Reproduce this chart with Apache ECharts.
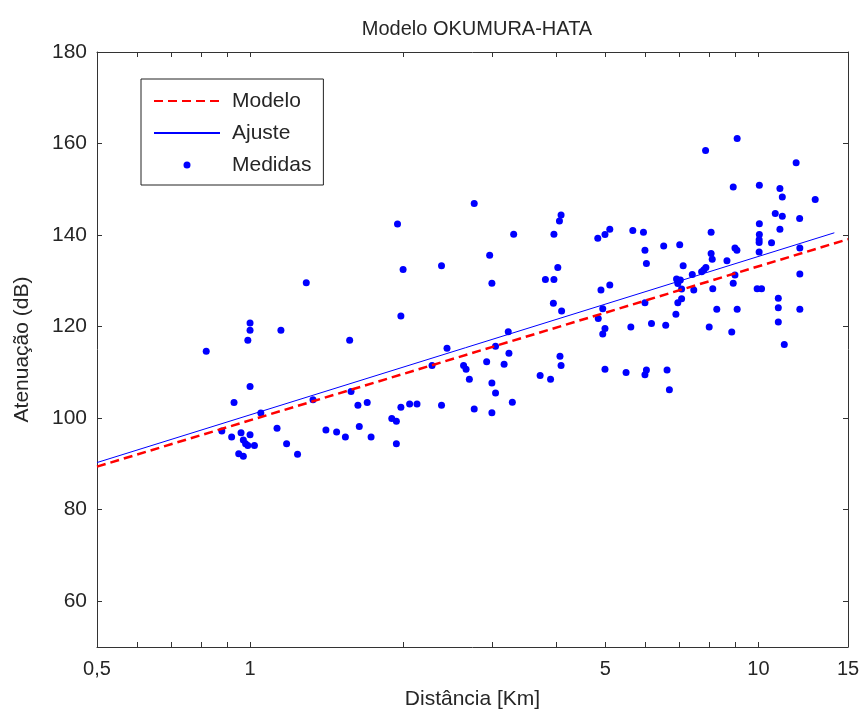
<!DOCTYPE html>
<html>
<head>
<meta charset="utf-8">
<script src="https://cdn.jsdelivr.net/npm/echarts@6/dist/echarts.min.js"></script>
<style>
  html, body { margin: 0; padding: 0; background: #fff; }
  #chart { width: 866px; height: 715px; }
</style>
</head>
<body>
<div id="chart"></div>
<script>
// medidas (distancia em km, atenuacao em dB)
var distKm = [0.82,1.00,1.00,0.99,1.15,1.57,1.00,0.93,1.58,1.63,1.70,1.98,1.33,1.05,0.88,0.92,0.96,1.00,0.97,0.98,
  0.99,1.02,0.95,0.97,1.13,1.18,1.24,1.41,1.48,1.54,1.64,1.73,1.90,1.94,1.94,1.98,1.95,2.00,1.29,2.76,
  3.30,3.96,4.09,4.06,4.83,4.99,5.10,2.38,2.96,2.99,4.03,3.81,3.96,4.90,5.10,9.08,7.87,11.86,8.92,10.04,
  11.02,11.14,12.93,10.79,11.14,12.05,10.04,11.02,5.66,5.94,8.07,10.04,10.03,10.03,10.61,6.51,7.00,5.98,8.99,9.07,
  10.03,12.06,8.07,8.11,8.67,6.02,7.11,7.88,7.81,7.73,7.41,12.06,8.99,6.90,7.02,6.94,8.92,7.06,7.46,8.13,
  9.94,10.14,10.94,7.06,3.95,4.10,4.94,4.84,4.99,4.94,4.99,3.22,2.44,3.04,3.23,2.28,2.63,2.66,2.70,2.92,
  3.16,4.07,4.09,3.72,3.90,2.99,3.04,2.06,2.13,2.38,2.76,2.99,3.28,5.98,6.94,6.88,5.61,6.16,6.57,8.00,
  8.28,9.08,8.86,10.94,12.06,10.94,11.24,5.49,5.98,6.02,6.61,6.68];
var atenDb = [114.6,120.8,119.2,117.0,119.2,117.0,106.9,103.4,105.8,102.8,103.4,102.4,104.0,101.1,97.2,95.9,96.8,96.4,95.2,94.4,
  94.0,94.0,92.2,91.7,97.8,94.4,92.1,97.4,97.0,95.9,98.2,95.9,99.9,99.3,94.4,122.3,142.4,132.5,129.6,146.9,
  140.2,140.2,144.4,143.1,139.3,140.1,141.3,133.3,135.6,129.5,132.9,130.3,130.3,128.0,129.1,161.1,158.5,155.8,150.5,150.9,
  150.2,148.3,147.8,144.7,144.1,143.6,142.5,141.3,141.0,140.6,140.6,140.1,139.0,138.4,138.3,137.6,137.9,136.7,137.2,136.7,
  136.3,137.2,136.0,134.7,134.4,133.8,133.3,132.9,132.4,132.0,131.4,131.5,131.3,130.4,130.2,129.4,129.5,128.2,128.0,128.3,
  128.3,128.3,126.2,126.1,125.1,123.4,123.9,121.8,119.6,118.4,110.7,118.9,115.3,115.7,114.2,111.5,111.5,110.7,108.5,112.3,
  111.8,113.5,111.5,109.3,108.5,107.7,105.5,103.1,103.1,102.8,102.0,101.2,103.5,125.2,125.2,122.7,119.9,120.7,120.3,119.9,
  123.8,123.8,118.8,124.1,123.8,121.0,116.1,110.0,109.5,110.5,110.5,106.2];

// retas: modelo Okumura-Hata e ajuste
var modeloX = [0.5, 15];
var modeloY = [89.4, 139.1];
var ajusteX = [0.5, 14.1];
var ajusteY = [90.3, 140.5];

var xTicks = [0.6, 0.7, 0.8, 0.9, 1, 2, 3, 4, 5, 6, 7, 8, 9, 10];
var xLabels = [0.5, 1, 5, 10, 15];
var yTicks = [60, 80, 100, 120, 140, 160, 180];

var fonte = 'Liberation Sans';
var corTexto = '#262626';

function pares(xs, ys) {
  var out = [];
  for (var i = 0; i < xs.length; i++) out.push([xs[i], ys[i]]);
  return out;
}

var chart = echarts.init(document.getElementById('chart'));
var option = {
  animation: false,
  backgroundColor: '#fff',
  title: {
    text: 'Modelo OKUMURA-HATA',
    left: 472, top: 14,
    textAlign: 'center',
    textStyle: { fontFamily: fonte, fontSize: 20, fontWeight: 'normal', color: corTexto }
  },
  legend: {
    orient: 'vertical',
    left: 141, top: 79,
    padding: [11, 12, 9, 12],
    itemWidth: 66, itemHeight: 7, itemGap: 10,
    borderColor: '#222', borderWidth: 1,
    backgroundColor: '#fff',
    textStyle: { fontFamily: fonte, fontSize: 21, color: corTexto, lineHeight: 22, padding: [0, 0, 0, 7] },
    data: ['Modelo', 'Ajuste', 'Medidas']
  },
  grid: { left: 97, right: 18, top: 52, bottom: 68 },
  xAxis: [{
    type: 'log', logBase: 10, min: 0.5, max: 15,
    name: 'Distância [Km]', nameLocation: 'middle', nameGap: 42,
    nameTextStyle: { fontFamily: fonte, fontSize: 21, color: corTexto },
    axisLine: { lineStyle: { color: '#333', width: 1 } },
    axisTick: { inside: true, length: 5, customValues: xTicks, lineStyle: { color: '#333' } },
    axisLabel: {
      customValues: xLabels, margin: 12,
      fontFamily: fonte, fontSize: 20, color: corTexto,
      formatter: function (v) { return v === 0.5 ? '0,5' : String(v); }
    },
    splitLine: { show: false }, minorTick: { show: false }
  }, {
    type: 'log', logBase: 10, min: 0.5, max: 15, position: 'top',
    axisLine: { lineStyle: { color: '#333', width: 1 } },
    axisTick: { inside: true, length: 5, customValues: xTicks, lineStyle: { color: '#333' } },
    axisLabel: { show: false },
    splitLine: { show: false }
  }],
  yAxis: [{
    type: 'value', min: 50, max: 180,
    name: 'Atenuação (dB)', nameLocation: 'middle', nameGap: 64,
    nameTextStyle: { fontFamily: fonte, fontSize: 21, color: corTexto },
    axisLine: { show: true, lineStyle: { color: '#333', width: 1 } },
    axisTick: { show: true, inside: true, length: 5, customValues: yTicks, lineStyle: { color: '#333' } },
    axisLabel: { customValues: yTicks, margin: 10, fontFamily: fonte, fontSize: 21, color: corTexto },
    splitLine: { show: false }
  }, {
    type: 'value', min: 50, max: 180, position: 'right',
    axisLine: { show: true, lineStyle: { color: '#333', width: 1 } },
    axisTick: { show: true, inside: true, length: 5, customValues: yTicks, lineStyle: { color: '#333' } },
    axisLabel: { show: false },
    splitLine: { show: false }
  }],
  series: [{
    name: 'Modelo', type: 'line', symbol: 'none',
    data: pares(modeloX, modeloY),
    itemStyle: { color: 'rgba(0,0,0,0)' },
    lineStyle: { color: '#ff0000', width: 2.5, type: [9, 5] }
  }, {
    name: 'Ajuste', type: 'line', symbol: 'none',
    data: pares(ajusteX, ajusteY),
    itemStyle: { color: 'rgba(0,0,0,0)' },
    lineStyle: { color: '#0000ff', width: 1 }
  }, {
    name: 'Medidas', type: 'scatter', symbol: 'circle', symbolSize: 7,
    data: pares(distKm, atenDb),
    itemStyle: { color: '#0000ff', opacity: 1 }
  }]
};
chart.setOption(option);
</script>
</body>
</html>
